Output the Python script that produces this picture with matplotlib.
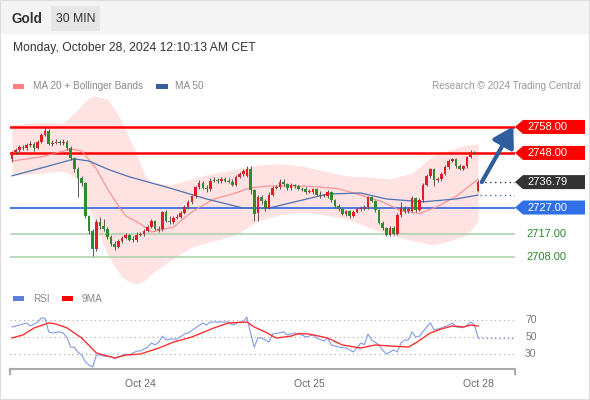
import numpy as np
import matplotlib
matplotlib.use('Agg')
import matplotlib.pyplot as plt
from matplotlib.patches import Rectangle, Polygon
import matplotlib.transforms as mtransforms

plt.rcParams['font.family'] = ['Liberation Sans', 'DejaVu Sans']

# data: 30 min candles (index 0 .. 127)
opens = [2745.8, 2748.4, 2749.0, 2750.2, 2749.8, 2751.0, 2751.6, 2749.8, 2752.2, 2755.0,
         2756.6, 2751.4, 2752.0, 2752.4, 2751.8, 2752.2, 2750.0, 2746.0, 2742.0, 2738.2,
         2736.6, 2723.6, 2718.0, 2711.0, 2721.6, 2719.8, 2718.8, 2715.8, 2713.0, 2712.0,
         2714.0, 2715.4, 2716.4, 2714.6, 2714.4, 2716.6, 2716.8, 2718.0, 2719.6, 2721.8,
         2718.8, 2718.6, 2725.2, 2722.0, 2721.4, 2723.0, 2723.4, 2725.0, 2727.2, 2729.0,
         2731.4, 2734.8, 2736.6, 2734.6, 2734.0, 2737.4, 2737.6, 2737.2, 2738.0, 2737.4,
         2737.0, 2735.8, 2738.8, 2739.8, 2739.0, 2742.0, 2733.6, 2725.0, 2731.0, 2729.6,
         2727.0, 2732.0, 2734.6, 2734.8, 2737.0, 2736.0, 2734.4, 2735.6, 2735.2, 2734.2,
         2734.0, 2733.0, 2733.0, 2734.0, 2732.0, 2731.6, 2731.4, 2733.0, 2729.8, 2727.6,
         2726.4, 2724.4, 2725.6, 2723.8, 2725.4, 2726.4, 2726.6, 2727.2, 2731.0, 2729.6,
         2726.0, 2721.2, 2719.0, 2716.6, 2719.2, 2717.0, 2724.0, 2727.0, 2725.6, 2725.8,
         2730.6, 2726.0, 2729.8, 2735.8, 2739.0, 2741.8, 2737.6, 2738.0, 2740.0, 2742.6,
         2745.0, 2745.6, 2742.8, 2742.0, 2742.8, 2746.4, 2748.2, 2733.4]
highs = [2748.8, 2750.0, 2751.0, 2751.2, 2752.0, 2752.6, 2752.4, 2753.0, 2755.6, 2758.2,
         2757.4, 2752.8, 2753.4, 2753.0, 2753.2, 2752.8, 2750.6, 2746.6, 2742.6, 2739.0,
         2737.0, 2724.2, 2718.6, 2722.4, 2723.2, 2722.6, 2719.4, 2716.4, 2714.0, 2714.8,
         2716.0, 2717.2, 2717.0, 2716.2, 2717.6, 2717.6, 2718.6, 2720.2, 2722.4, 2722.2,
         2720.0, 2725.8, 2726.0, 2723.6, 2723.8, 2724.4, 2725.8, 2727.8, 2729.8, 2732.0,
         2735.4, 2737.6, 2737.4, 2735.6, 2738.2, 2738.8, 2738.4, 2738.8, 2738.6, 2738.2,
         2737.8, 2739.4, 2740.6, 2742.0, 2743.0, 2742.8, 2734.0, 2732.0, 2732.0, 2730.2,
         2732.8, 2735.4, 2735.6, 2737.8, 2738.0, 2736.6, 2736.4, 2736.2, 2735.8, 2734.8,
         2734.8, 2734.0, 2734.6, 2734.6, 2733.2, 2732.4, 2733.6, 2733.4, 2730.4, 2728.2,
         2727.0, 2726.2, 2726.0, 2726.0, 2727.0, 2727.6, 2728.0, 2731.6, 2731.6, 2730.0,
         2726.6, 2722.0, 2719.6, 2719.8, 2719.8, 2724.8, 2729.2, 2727.6, 2727.2, 2731.4,
         2731.0, 2730.6, 2736.4, 2739.8, 2742.4, 2742.2, 2738.6, 2740.6, 2743.4, 2745.6,
         2746.2, 2746.2, 2743.6, 2743.4, 2747.0, 2749.0, 2748.8, 2737.6]
lows = [2744.6, 2747.6, 2748.4, 2749.0, 2749.2, 2750.4, 2748.8, 2749.4, 2751.8, 2754.6,
        2751.0, 2750.6, 2751.4, 2751.0, 2751.2, 2749.2, 2745.2, 2740.8, 2731.0, 2735.4,
        2723.0, 2716.8, 2708.4, 2710.4, 2718.6, 2717.8, 2715.0, 2712.2, 2710.8, 2711.4,
        2713.4, 2714.8, 2714.0, 2713.6, 2713.8, 2716.0, 2716.2, 2717.6, 2719.0, 2718.2,
        2717.4, 2718.0, 2721.4, 2720.6, 2720.8, 2722.4, 2722.8, 2724.4, 2726.6, 2728.4,
        2730.8, 2734.2, 2734.0, 2733.0, 2733.4, 2736.8, 2736.6, 2736.6, 2736.8, 2736.4,
        2735.2, 2735.2, 2738.2, 2739.0, 2738.6, 2732.2, 2722.0, 2721.8, 2728.4, 2725.8,
        2726.4, 2731.4, 2734.0, 2734.2, 2735.4, 2733.8, 2733.8, 2734.6, 2733.6, 2733.2,
        2732.4, 2732.6, 2732.4, 2731.4, 2730.6, 2731.0, 2730.8, 2729.2, 2727.0, 2725.8,
        2724.0, 2723.8, 2723.0, 2723.2, 2724.8, 2725.8, 2726.0, 2726.6, 2729.0, 2725.4,
        2720.6, 2718.4, 2716.0, 2716.2, 2716.4, 2716.6, 2723.4, 2725.0, 2725.0, 2725.2,
        2725.4, 2725.6, 2729.2, 2735.2, 2738.4, 2735.4, 2737.0, 2737.4, 2739.4, 2742.0,
        2744.4, 2742.2, 2741.4, 2741.6, 2742.2, 2746.0, 2747.8, 2733.0]
closes = [2748.4, 2749.0, 2750.2, 2749.8, 2751.0, 2751.6, 2749.8, 2752.2, 2755.0, 2756.6,
          2751.4, 2752.0, 2752.4, 2751.8, 2752.2, 2750.0, 2746.0, 2742.0, 2738.2, 2736.6,
          2723.6, 2718.0, 2711.2, 2721.6, 2719.8, 2718.8, 2715.8, 2713.0, 2712.0, 2714.0,
          2715.4, 2716.4, 2714.6, 2714.4, 2716.6, 2716.8, 2718.0, 2719.6, 2721.8, 2718.8,
          2718.2, 2725.2, 2722.0, 2721.4, 2723.0, 2723.4, 2725.0, 2727.2, 2729.0, 2731.4,
          2734.8, 2736.6, 2734.6, 2734.0, 2737.4, 2737.6, 2737.2, 2738.0, 2737.4, 2737.0,
          2735.8, 2738.8, 2739.8, 2741.2, 2742.0, 2733.6, 2724.6, 2731.0, 2729.6, 2727.0,
          2732.0, 2734.6, 2734.8, 2737.0, 2736.0, 2734.4, 2735.6, 2735.2, 2734.2, 2733.8,
          2733.0, 2733.4, 2734.0, 2732.0, 2731.6, 2731.8, 2733.0, 2729.8, 2727.6, 2726.4,
          2724.6, 2725.6, 2723.6, 2725.4, 2726.4, 2726.8, 2727.2, 2731.0, 2729.6, 2726.0,
          2721.2, 2719.0, 2716.6, 2719.2, 2717.0, 2724.0, 2727.0, 2725.6, 2726.4, 2730.6,
          2726.0, 2730.0, 2735.8, 2739.0, 2741.8, 2737.6, 2738.0, 2740.0, 2742.6, 2745.0,
          2745.6, 2742.8, 2742.0, 2742.8, 2746.4, 2748.4, 2748.4, 2736.79]

# MA 20 and Bollinger bands (read at sampled bars)
ma20_idx = [0, 8, 16, 19, 23, 26, 29, 31, 35, 38, 44, 49, 55, 60, 65, 70, 79, 84, 89, 95,
            101, 106, 111, 116, 121, 125, 127]
ma20_val = [2744.9, 2746.5, 2749.5, 2748.8, 2741.8, 2734.2, 2727.6, 2723.8, 2720.7, 2717.6,
            2719.5, 2725.3, 2730.3, 2732.2, 2734.6, 2735.3, 2735.3, 2734.9, 2734.2, 2731.8,
            2729.2, 2725.7, 2724.7, 2727.4, 2731.3, 2735.7, 2738.0]
bb_idx = [0, 8, 14, 18, 20, 22, 24, 26, 28, 30, 32, 34, 36, 38, 43, 49, 55, 61, 67, 73,
          79, 85, 91, 97, 103, 109, 115, 121, 124, 127]
bb_upper = [2758.8, 2759.9, 2759.5, 2764.9, 2768.0, 2769.9, 2769.5, 2768.8, 2764.9, 2759.9,
            2753.4, 2747.6, 2739.9, 2736.8, 2735.7, 2738.0, 2740.3, 2741.8, 2743.4, 2743.8,
            2743.0, 2741.1, 2739.2, 2738.8, 2738.0, 2740.3, 2747.2, 2749.9, 2751.1, 2751.5]
bb_lower = [2739.5, 2740.3, 2741.1, 2738.0, 2730.3, 2723.4, 2715.7, 2709.2, 2704.2, 2700.3,
            2698.4, 2697.6, 2698.8, 2701.5, 2706.5, 2711.8, 2714.2, 2716.5, 2721.8, 2724.2,
            2725.3, 2724.2, 2722.6, 2719.5, 2716.5, 2714.2, 2712.6, 2714.9, 2716.5, 2721.8]

# MA 50
ma50_idx = [0, 9, 17, 21, 26, 32, 42, 53, 63, 70, 78, 86, 95, 102, 112, 121, 127]
ma50_val = [2739.2, 2742.6, 2745.7, 2744.9, 2741.8, 2738.8, 2734.9, 2730.3, 2726.8, 2726.8,
            2729.5, 2732.2, 2732.6, 2730.3, 2729.2, 2730.3, 2731.8]

# key levels
resistances = [2758.0, 2748.0]
pivot = 2727.0
supports = [2717.0, 2708.0]
last_price = 2736.79

# RSI panel
rsi_idx = [0, 2, 4, 5, 7, 8, 9, 10, 11, 13, 14, 15, 16, 17, 18, 19, 20, 21, 22, 23, 24, 25,
           27, 28, 29, 31, 32, 34, 35, 37, 38, 39, 40, 41, 42, 43, 45, 47, 48, 50, 52, 53, 54,
           57, 59, 60, 62, 63, 64, 65, 66, 67, 68, 70, 71, 73, 74, 75, 77, 78, 79, 80, 82, 83,
           85, 86, 87, 89, 91, 93, 94, 95, 96, 97, 98, 100, 101, 102, 104, 105, 106, 107, 108,
           109, 110, 111, 113, 114, 115, 117, 119, 120, 121, 123, 124, 125, 126, 127]
rsi_val = [61.8, 64.0, 66.5, 63.0, 67.6, 72.4, 72.0, 56.0, 54.7, 56.0, 54.7, 49.0, 38.0, 38.0,
           32.0, 28.8, 20.6, 17.0, 14.7, 28.8, 28.8, 27.6, 26.5, 25.3, 26.5, 30.0, 28.8, 33.5,
           33.5, 38.0, 43.0, 40.6, 44.0, 51.0, 46.5, 47.6, 47.6, 53.5, 54.7, 60.6, 66.5, 64.0,
           67.6, 67.6, 67.6, 64.0, 67.6, 67.6, 73.5, 54.7, 38.0, 49.0, 49.0, 44.0, 53.5, 55.0,
           56.0, 52.5, 54.7, 53.5, 52.4, 50.0, 52.4, 48.8, 45.3, 48.8, 40.6, 38.2, 37.0, 32.4,
           37.0, 43.0, 41.0, 53.5, 46.5, 40.6, 34.7, 30.0, 34.7, 32.4, 43.0, 46.5, 46.5, 55.9,
           50.0, 51.0, 61.8, 66.5, 58.2, 60.6, 64.0, 66.5, 61.8, 61.0, 64.0, 67.6, 64.0, 49.0]
ma9_idx = [0, 3, 6, 10, 12, 15, 19, 23, 28, 31, 35, 40, 44, 49, 55, 59, 64, 66, 69, 72, 76,
           78, 81, 86, 90, 95, 99, 103, 108, 110, 114, 117, 120, 123, 125, 127]
ma9_val = [48.8, 52.4, 60.6, 66.5, 65.3, 60.6, 48.8, 31.2, 25.3, 28.8, 30.0, 37.0, 44.0, 50.0,
           60.6, 66.5, 67.6, 61.8, 55.9, 48.8, 51.0, 54.0, 53.5, 48.8, 40.6, 37.0, 40.6, 39.4,
           38.2, 43.0, 54.7, 59.4, 63.0, 61.8, 64.0, 62.9]
rsi_levels = [70, 50, 30]

day_ticks = [35, 81, 127]
day_labels = ['Oct 24', 'Oct 25', 'Oct 28']

W, H = 590, 400
fig = plt.figure(figsize=(W / 100, H / 100), dpi=100)
fig.patch.set_facecolor('white')

def fx(p):
    return p / W

def fy(p):
    return 1 - p / H

# header
fig.patches.append(Rectangle((0, fy(34)), 1, 34 / H, transform=fig.transFigure,
                             facecolor='#f4f4f4', edgecolor='none', zorder=0))
fig.patches.append(Rectangle((fx(51), fy(31)), 49 / W, 25 / H, transform=fig.transFigure,
                             facecolor='#e6e6e6', edgecolor='none', zorder=1))
fig.patches.append(Rectangle((0, 0), 1, 1, transform=fig.transFigure, fill=False,
                             edgecolor='#dddddd', lw=1.5, zorder=5))
fig.text(fx(12), fy(19), 'Gold', fontsize=9.8, fontweight='bold', color='#333333', va='center')
fig.text(fx(75.5), fy(19), '30 MIN', fontsize=8.8, color='#333333', va='center', ha='center')
fig.text(fx(13), fy(48.5), 'Monday, October 28, 2024 12:10:13 AM CET', fontsize=8.7,
         color='#333333', va='center')

# legends
fig.patches.append(Rectangle((fx(13), fy(89)), 11 / W, 5 / H, transform=fig.transFigure,
                             facecolor='#ff8080', edgecolor='none'))
fig.text(fx(33), fy(86), 'MA 20 + Bollinger Bands', fontsize=7.2, color='#888888', va='center')
fig.patches.append(Rectangle((fx(156), fy(89)), 12 / W, 5 / H, transform=fig.transFigure,
                             facecolor='#3a5f9f', edgecolor='none'))
fig.text(fx(175), fy(86), 'MA 50', fontsize=7.2, color='#888888', va='center')
fig.text(fx(581), fy(86), 'Research \u00a9 2024 Trading Central', fontsize=7.2,
         color='#999999', va='center', ha='right')

fig.patches.append(Rectangle((fx(13), fy(301)), 11 / W, 5 / H, transform=fig.transFigure,
                             facecolor='#5b7fe0', edgecolor='none'))
fig.text(fx(33), fy(299), 'RSI', fontsize=7.2, color='#888888', va='center')
fig.patches.append(Rectangle((fx(62), fy(301)), 11 / W, 5 / H, transform=fig.transFigure,
                             facecolor='#ff0000', edgecolor='none'))
fig.text(fx(82), fy(299), '9MA', fontsize=7.2, color='#888888', va='center')

# main price panel
px_per_bar = 3.67
xl = ((10 - 12) / px_per_bar, (515 - 12) / px_per_bar)
ax = fig.add_axes([fx(10), fy(285), 505 / W, 193 / H])
ax.axis('off')
ax.set_xlim(*xl)
ax.set_ylim(2697.2, 2771.45)

ax.fill_between(bb_idx, bb_lower, bb_upper, color='#ffdede', alpha=0.85, lw=0, zorder=1)

for lvl in resistances:
    ax.axhline(lvl, color='#ff0000', lw=1.8, zorder=2)
ax.axhline(pivot, color='#3d6fe0', lw=1.3, zorder=2)
for lvl in supports:
    ax.axhline(lvl, color='#a8d0a8', lw=1.1, zorder=2)

ax.plot(ma20_idx, ma20_val, color='#ff8a8a', lw=0.8, zorder=3)
ax.plot(ma50_idx, ma50_val, color='#4c70b0', lw=0.9, zorder=3)

x = np.arange(len(closes))
o = np.array(opens)
c = np.array(closes)
up = c >= o
ax.vlines(x, lows, highs, color='#555555', lw=0.7, zorder=4)
bottoms = np.minimum(o, c)
heights = np.maximum(np.abs(c - o), 0.35)
ax.bar(x, heights, bottom=bottoms, width=0.72,
       color=np.where(up, '#e51c23', '#2e8b2e'), edgecolor='none', zorder=5)

last = x[-1]
ax.plot([last + 0.6, xl[1]], [last_price, last_price], color='#333333', lw=1,
        ls=(0, (1, 2.5)), zorder=3)
ax.plot([last + 0.6, xl[1]], [ma50_val[-1], ma50_val[-1]], color='#4c70b0', lw=1,
        ls=(0, (1, 2.5)), zorder=3)

ax.annotate('', xy=(last + 9.6, resistances[0] + 0.2), xytext=(last + 1.0, last_price),
            arrowprops=dict(arrowstyle='-|>,head_width=0.45,head_length=0.75', lw=3.0,
                            color='#2f5e9e', mutation_scale=16, shrinkA=0, shrinkB=0),
            zorder=6)

# price tags on the right
blend = mtransforms.blended_transform_factory(ax.transAxes, ax.transData)
unit = (ax.get_ylim()[1] - ax.get_ylim()[0]) / 193.0
half = 7 * unit
tip, sh, right = 1.0, 1.0 + 8 / 505, (585 - 10) / 505
txt_x = (527 - 10) / 505

def tag(level, text, fc):
    poly = Polygon([(tip, level), (sh, level + half), (right, level + half),
                    (right, level - half), (sh, level - half)], closed=True,
                   transform=blend, facecolor=fc, edgecolor='none', clip_on=False, zorder=7)
    ax.add_patch(poly)
    ax.text(txt_x, level, text, transform=blend, color='white',
            fontsize=8, ha='left', va='center', clip_on=False, zorder=8)

for lvl in resistances:
    tag(lvl, f'{lvl:.2f}', '#ff0000')
tag(last_price, f'{last_price:.2f}', '#333333')
tag(pivot, f'{pivot:.2f}', '#2f6fe8')
for lvl in supports:
    ax.text(txt_x - 0.002, lvl, f'{lvl:.2f}', transform=blend, color='#2a8a2a', fontsize=8,
            ha='left', va='center', clip_on=False)

# RSI panel
rx = fig.add_axes([fx(10), fy(369), 505 / W, 61 / H])
rx.set_xlim(*xl)
rx.set_ylim(12.35, 84.1)
for s in ['top', 'right', 'left']:
    rx.spines[s].set_visible(False)
rx.spines['bottom'].set_color('#aaaaaa')
rx.spines['bottom'].set_linewidth(1.5)
rx.set_yticks([])
rx.set_xticks(day_ticks)
rx.set_xticklabels(day_labels, fontsize=7.5, color='#666666')
rx.tick_params(axis='x', length=0, pad=7)
rx.plot([0, 0], [0, -0.09], transform=rx.transAxes, color='#aaaaaa', lw=1.5, clip_on=False)
rx.plot([1, 1], [0, -0.09], transform=rx.transAxes, color='#aaaaaa', lw=1.5, clip_on=False)

rblend = mtransforms.blended_transform_factory(rx.transAxes, rx.transData)
for lvl in rsi_levels:
    rx.axhline(lvl, color='#aaaaaa', lw=0.8, ls=(0, (1, 3)))
    rx.text(1.02, lvl, str(lvl), transform=rblend, fontsize=7.5, color='#777777',
            va='center', ha='left', clip_on=False)

rx.plot(rsi_idx, rsi_val, color='#7f9be8', lw=0.8)
rx.plot(ma9_idx, ma9_val, color='#ff3030', lw=1.0)
rx.plot([rsi_idx[-1], xl[1]], [rsi_val[-1], rsi_val[-1]], color='#7f9be8', lw=1,
        ls=(0, (1, 2)))

fig.savefig('out.png', dpi=100)
